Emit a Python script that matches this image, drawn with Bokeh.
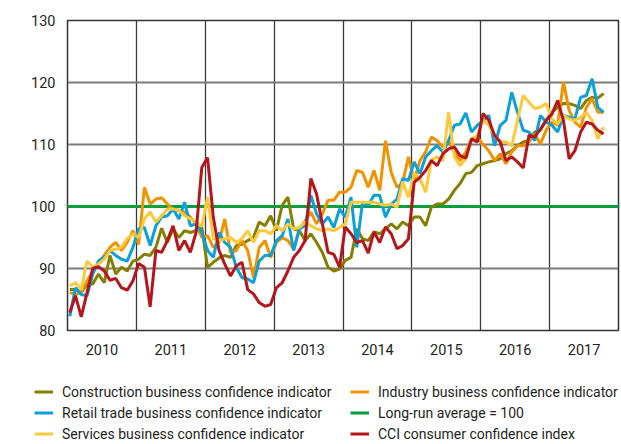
from bokeh.plotting import figure
from bokeh.models import FixedTicker, Legend, LegendItem, Range1d, Spacer
from bokeh.embed import file_html
from bokeh.resources import INLINE

# ---------------- data (monthly, Jan 2010 .. Oct 2017) ----------------
START_YEAR = 2010
construction = [86.6, 86.6, 86.1, 87.5, 87.5, 89.1, 87.7, 92.1, 89.1, 90.2, 89.6, 91.2,
                91.5, 92.3, 92.1, 93.4, 96.5, 94.2, 96.4, 95.0, 96.1, 95.8, 96.1, 96.6,
                90.2, 91.0, 91.7, 92.1, 91.8, 93.7, 93.9, 94.5, 95.0, 97.5, 96.9, 98.5,
                96.1, 100.2, 101.5, 96.4, 96.1, 94.5, 95.6, 94.2, 92.6, 90.2, 89.6, 89.9,
                91.3, 91.8, 96.4, 94.8, 94.5, 95.9, 95.6, 96.4, 97.2, 96.4, 97.5, 96.9,
                98.3, 98.3, 96.9, 99.9, 100.4, 100.4, 101.2, 102.6, 103.7, 105.3, 105.5, 106.6,
                106.9, 107.2, 107.4, 107.7, 108.5, 109.0, 109.8, 110.4, 110.6, 112.0, 112.3, 113.9,
                115.2, 116.0, 116.6, 116.6, 116.3, 115.8, 117.1, 117.6, 117.5, 118.2]
retail = [82.3, 86.9, 85.8, 85.6, 89.1, 91.2, 91.8, 92.9, 92.1, 91.5, 91.2, 93.4,
          96.4, 96.6, 93.7, 96.9, 98.3, 98.5, 99.6, 98.0, 100.7, 96.9, 97.2, 95.8,
          92.9, 91.8, 95.8, 94.2, 93.4, 90.2, 88.5, 88.3, 87.7, 91.2, 92.1, 92.1,
          94.5, 95.3, 98.0, 92.9, 96.4, 96.9, 101.8, 98.8, 97.2, 98.3, 96.6, 99.6,
          98.3, 101.5, 93.4, 100.7, 100.2, 101.8, 101.8, 98.3, 100.4, 101.2, 104.5, 104.2,
          107.2, 105.3, 108.0, 109.0, 109.8, 108.8, 110.6, 113.1, 113.3, 115.1, 112.0, 113.1,
          113.8, 114.7, 109.8, 113.1, 113.9, 118.4, 115.2, 112.3, 112.0, 110.6, 114.7, 113.6,
          113.1, 112.0, 114.7, 114.4, 114.1, 117.6, 117.9, 120.6, 116.0, 115.2]
services = [87.2, 87.7, 86.6, 91.2, 90.2, 90.7, 91.5, 92.9, 93.1, 93.4, 94.8, 95.6,
            95.0, 98.0, 99.1, 97.5, 98.5, 99.6, 99.6, 99.4, 98.5, 98.0, 97.5, 96.8,
            101.5, 94.8, 94.5, 94.8, 95.0, 94.2, 94.8, 96.1, 94.2, 96.1, 96.1, 95.6,
            96.9, 96.1, 97.2, 96.4, 96.6, 97.5, 96.9, 96.4, 96.1, 96.4, 96.1, 96.6,
            97.2, 100.7, 100.7, 100.7, 100.7, 100.7, 100.4, 100.2, 100.4, 99.9, 104.0, 101.5,
            105.3, 104.5, 102.3, 107.5, 108.0, 107.4, 115.2, 108.0, 106.6, 107.7, 110.9, 111.5,
            114.0, 113.1, 111.5, 110.4, 110.4, 109.8, 113.9, 117.9, 116.8, 115.8, 116.0, 116.6,
            114.1, 113.3, 114.7, 114.1, 113.9, 114.4, 115.2, 113.9, 110.9, 112.8]
industry = [86.1, 85.8, 86.1, 88.0, 89.6, 91.0, 92.1, 93.4, 94.2, 92.9, 94.2, 96.1,
            93.9, 103.1, 100.4, 101.2, 101.4, 100.4, 99.4, 99.4, 99.1, 98.3, 97.2, 95.0,
            95.3, 93.4, 94.2, 98.0, 92.6, 92.9, 94.5, 92.9, 88.5, 93.4, 94.5, 91.8,
            94.2, 95.0, 94.5, 93.1, 96.4, 97.7, 99.1, 97.2, 98.8, 101.0, 101.0, 102.3,
            102.3, 103.1, 105.8, 105.5, 103.1, 105.8, 102.6, 110.6, 105.5, 103.1, 103.9, 108.0,
            104.2, 107.4, 108.8, 111.2, 110.6, 109.6, 110.6, 108.8, 107.4, 108.8, 110.9, 111.2,
            110.0, 109.0, 107.4, 108.5, 106.9, 108.8, 109.8, 109.8, 110.4, 111.7, 110.1, 112.3,
            113.6, 113.1, 120.1, 115.5, 113.6, 112.8, 116.0, 117.4, 115.2, 115.2]
cci = [82.9, 85.6, 82.2, 86.1, 90.0, 90.3, 89.6, 88.1, 88.4, 86.9, 86.5, 88.0,
       90.8, 90.2, 83.8, 92.9, 92.6, 94.5, 96.9, 92.9, 94.5, 92.6, 95.8, 106.3,
       107.9, 98.3, 92.9, 90.7, 88.8, 90.4, 91.0, 86.6, 85.9, 84.5, 83.9, 84.2,
       86.9, 87.7, 89.6, 91.8, 92.9, 94.5, 104.5, 102.0, 97.2, 92.6, 92.3, 90.2,
       96.7, 95.6, 94.2, 94.5, 92.5, 95.9, 94.2, 96.7, 95.6, 93.2, 93.7, 94.8,
       103.9, 104.7, 105.8, 107.4, 106.6, 108.5, 109.3, 109.6, 108.2, 107.8, 110.9, 110.4,
       115.0, 113.9, 111.5, 110.4, 107.4, 108.0, 107.2, 106.2, 111.5, 111.2, 112.5, 113.9,
       114.9, 117.1, 113.9, 107.7, 109.0, 112.0, 113.6, 113.3, 112.3, 111.7]
long_run_average = 100

years = [2010, 2011, 2012, 2013, 2014, 2015, 2016, 2017]
year_labels = ["2010", "2011", "2012", "2013", "2014", "2015", "2016", "2017"]
y_ticks = [80, 90, 100, 110, 120, 130]

labels = {
    "construction": "Construction business confidence indicator",
    "retail": "Retail trade business confidence indicator",
    "services": "Services business confidence indicator",
    "industry": "Industry business confidence indicator",
    "longrun": "Long-run average = 100",
    "cci": "CCI consumer confidence index",
}
colors = {
    "construction": "#857f00",
    "retail": "#0aa0dc",
    "services": "#fcc93a",
    "industry": "#f39200",
    "longrun": "#00a03c",
    "cci": "#b5161c",
}

x = [START_YEAR + (i + 0.4) / 12 for i in range(len(construction))]
X_MIN, X_MAX = years[0], years[-1] + 1
values = {
    "construction": (x, construction),
    "retail": (x, retail),
    "services": (x, services),
    "industry": (x, industry),
    "cci": (x, cci),
    "longrun": ([X_MIN, X_MAX], [long_run_average, long_run_average]),
}

FONT = "Roboto"
TICK_SIZE = "14.5px"
LEG_SIZE = "14px"
TEXT_COLOR = "#231f20"
LW = 3
RULE_GREY = "#8c8c8c"

# ---------------- thin grey rule at the very top ----------------
gap = Spacer(width=621, height=4)
rule = figure(width=614, height=2, output_backend="svg", toolbar_location=None,
              x_range=Range1d(0, 1), y_range=Range1d(0, 1),
              min_border_left=0, min_border_right=0, min_border_top=0, min_border_bottom=0)
rule.axis.visible = False
rule.grid.visible = False
rule.outline_line_color = None
rule.border_fill_color = RULE_GREY
rule.background_fill_color = RULE_GREY

# ---------------- main chart ----------------
p = figure(width=621, height=358, output_backend="svg", toolbar_location=None,
           x_range=Range1d(X_MIN, X_MAX), y_range=Range1d(80, 130),
           min_border_left=67, min_border_right=3, min_border_top=14, min_border_bottom=34)

p.outline_line_color = "#333333"
p.outline_line_width = 1.5

for ax in (p.xaxis[0], p.yaxis[0]):
    ax.axis_line_color = None
    ax.major_tick_line_color = None
    ax.minor_tick_line_color = None
    ax.major_tick_out = 0
    ax.major_tick_in = 0
    ax.major_label_text_font = FONT
    ax.major_label_text_font_size = TICK_SIZE
    ax.major_label_text_color = TEXT_COLOR

p.yaxis.ticker = FixedTicker(ticks=y_ticks)
p.yaxis.major_label_standoff = 12
p.xaxis.ticker = FixedTicker(ticks=[y + 0.5 for y in years])
p.xaxis.major_label_overrides = {y + 0.5: lab for y, lab in zip(years, year_labels)}
p.xaxis.major_label_standoff = 13

p.xgrid.ticker = FixedTicker(ticks=years[1:])
p.xgrid.grid_line_color = "#3a3a3a"
p.xgrid.grid_line_width = 1.3
p.ygrid.ticker = FixedTicker(ticks=y_ticks)
p.ygrid.grid_line_color = "#7a7a7a"
p.ygrid.grid_line_width = 1.8

for key in ["longrun", "construction", "industry", "retail", "services", "cci"]:
    xs, ys = values[key]
    p.line(xs, ys, line_color=colors[key], line_width=LW)

# ---------------- legend strip (its own root, real Bokeh legends) ----------------
# the same series are plotted here, outside this strip's visible ranges, so only the
# legend entries show
q = figure(width=621, height=80, output_backend="svg", toolbar_location=None,
           x_range=Range1d(0, 1), y_range=Range1d(0, 1),
           min_border_left=0, min_border_right=0, min_border_top=0, min_border_bottom=0)
q.axis.visible = False
q.grid.visible = False
q.outline_line_color = None

keys_col1 = ["construction", "retail", "services"]
keys_col2 = ["industry", "longrun", "cci"]
swatch = {}
for k in keys_col1 + keys_col2:
    xs, ys = values[k]
    swatch[k] = q.line(xs, ys, line_color=colors[k], line_width=LW)


def make_legend(keys, loc):
    lg = Legend(items=[LegendItem(label=labels[k], renderers=[swatch[k]]) for k in keys],
                location=loc, orientation="vertical")
    lg.label_text_font = FONT
    lg.label_text_font_size = LEG_SIZE
    lg.label_text_color = TEXT_COLOR
    lg.glyph_width = 19
    lg.glyph_height = 21
    lg.label_height = 21
    lg.label_standoff = 9
    lg.spacing = 0
    lg.padding = 0
    lg.margin = 0
    lg.border_line_color = None
    lg.background_fill_alpha = 0
    return lg


q.add_layout(make_legend(keys_col1, (34, 0)))
q.add_layout(make_legend(keys_col2, (350, 0)))

open("out.html", "w").write(file_html([gap, rule, p, q], INLINE))
